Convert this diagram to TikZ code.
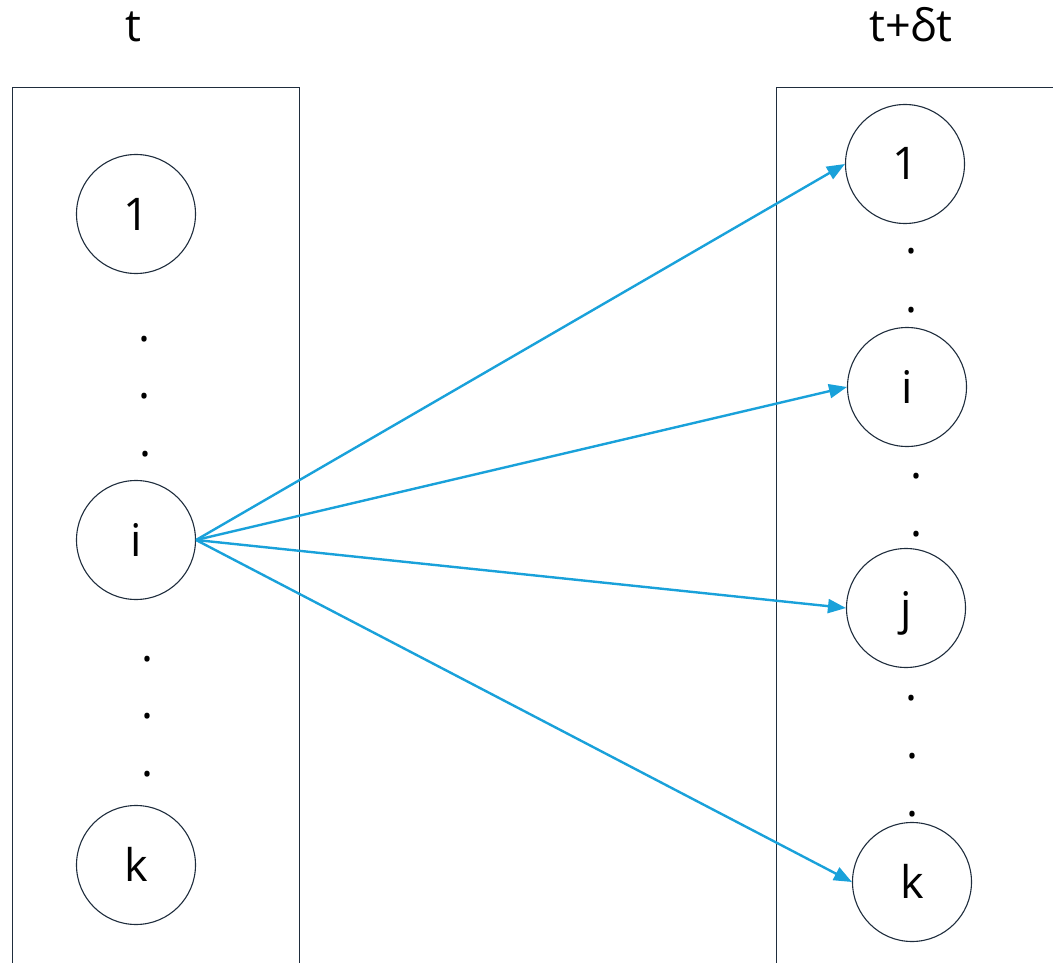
\documentclass[tikz,border=0pt]{standalone}
\usepackage{fontspec}
\setmainfont{Open Sans}
\usetikzlibrary{arrows.meta}
\definecolor{edgecol}{RGB}{31,45,61}
\definecolor{arrcol}{RGB}{25,161,218}
\begin{document}
\begin{tikzpicture}[x=1pt,y=-1pt,
  state/.style={circle,draw=edgecol,line width=1.1pt,minimum size=119pt,inner sep=0pt,
    font=\fontsize{45}{54}\selectfont,text height=32pt,text depth=0pt},
  dotmark/.style={inner sep=0pt,anchor=base,font=\fontsize{45}{54}\selectfont},
  title/.style={inner sep=0pt,anchor=base,font=\fontsize{45}{54}\selectfont},
  frame/.style={draw=edgecol,line width=1pt},
  link/.style={draw=arrcol,line width=2.4pt,-{Triangle[length=18pt,width=14pt]}}]
\useasboundingbox (0,0) rectangle (1053,963);
\clip (0,0) rectangle (1053,963);
% frames
\draw[frame] (12,975) -- (12,88) -- (299,88) -- (299,975);
\draw[frame] (776,975) -- (776,88) -- (1065,88);
% titles
\node[title] (tl) at (133,42) {t};
\node[title] (tr) at (911,42) {t+δt};
% left states
\node[state] (L1) at (136,214) {1};
\node[state] (Li) at (136,540) {i};
\node[state] (Lk) at (136,865) {k};
% right states
\node[state] (R1) at (905,164) {1};
\node[state] (Ri) at (907,387) {i};
\node[state] (Rj) at (906,608) {j};
\node[state] (Rk) at (912,882) {k};
% dots left
\node[dotmark] (ld1) at (144,341) {.};
\node[dotmark] (ld2) at (144,398) {.};
\node[dotmark] (ld3) at (145,456) {.};
\node[dotmark] (ld4) at (147,661) {.};
\node[dotmark] (ld5) at (147,718) {.};
\node[dotmark] (ld6) at (147,776) {.};
% dots right
\node[dotmark] (rd1) at (911,254) {.};
\node[dotmark] (rd2) at (911,312) {.};
\node[dotmark] (rd3) at (916,478) {.};
\node[dotmark] (rd4) at (916,536) {.};
\node[dotmark] (rd5) at (911,700) {.};
\node[dotmark] (rd6) at (912,758) {.};
\node[dotmark] (rd7) at (912,816) {.};
% links
\draw[link] (Li.east) -- (R1.west);
\draw[link] (Li.east) -- (Ri.west);
\draw[link] (Li.east) -- (Rj.west);
\draw[link] (Li.east) -- (Rk.west);
\end{tikzpicture}
\end{document}
